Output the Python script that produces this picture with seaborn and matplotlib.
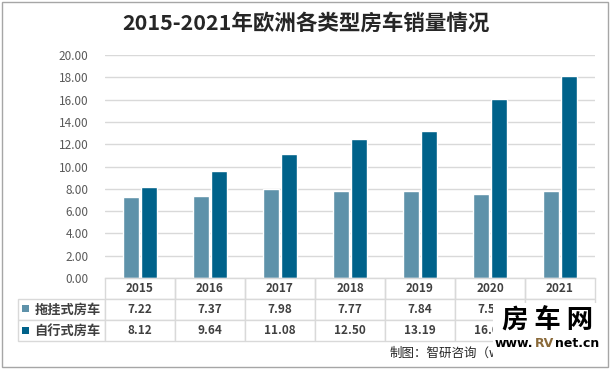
import pandas as pd
import matplotlib
matplotlib.use("Agg")
import matplotlib.pyplot as plt
from matplotlib.patches import Rectangle
import seaborn as sns

# ==============================
# Data
# ==============================
years = ["2015", "2016", "2017", "2018", "2019", "2020", "2021"]
series_names = ["拖挂式房车", "自行式房车"]
trailer = [7.22, 7.37, 7.98, 7.77, 7.84, 7.53, 7.80]
motorhome = [8.12, 9.64, 11.08, 12.50, 13.19, 16.03, 18.12]
colors = ["#5E92AA", "#00628A"]
yticks = [0, 2, 4, 6, 8, 10, 12, 14, 16, 18, 20]

df = pd.DataFrame({
    "year": years * 2,
    "type": [series_names[0]] * len(years) + [series_names[1]] * len(years),
    "value": trailer + motorhome,
})

# ==============================
# Style
# ==============================
sns.set_theme(style="white")
plt.rcParams["font.family"] = ["Noto Sans CJK SC", "DejaVu Sans"]

W, H = 611, 369
fig = plt.figure(figsize=(W / 100, H / 100), dpi=100)

# axes in pixel layout
left, right, top, bottom = 105, 595, 55, 278
ax = fig.add_axes([left / W, 1 - bottom / H, (right - left) / W, (bottom - top) / H])

sns.barplot(
    data=df, x="year", y="value", hue="type",
    palette=colors, width=0.53, gap=0.136,
    legend=False, ax=ax, saturation=1
)

ax.set_xlim(-0.5, len(years) - 0.5)
ax.set_ylim(0, 20)
ax.set_yticks(yticks)
ax.set_yticklabels([f"{v:.2f}" for v in yticks], color="#595959", fontsize=8.5)
ax.tick_params(axis="y", length=0, pad=12)
ax.set_xticks([])
ax.set_xlabel("")
ax.set_ylabel("")
ax.yaxis.grid(True, color="#D9D9D9", linewidth=1)
ax.set_axisbelow(True)
for s in ["top", "right", "left"]:
    ax.spines[s].set_visible(False)
ax.spines["bottom"].set_color("#D9D9D9")
ax.spines["bottom"].set_linewidth(1)

# ==============================
# Data table
# ==============================
tab_left, tab_bottom = 18, 341
tw = right - tab_left
th = tab_bottom - bottom
ax_w = right - left
ax_h = bottom - top
cell_text = [
    [series_names[0]] + [f"{v:.2f}" for v in trailer],
    [series_names[1]] + [f"{v:.2f}" for v in motorhome],
]
col_w = [(left - tab_left) / tw] + [(ax_w / len(years)) / tw] * len(years)
table = ax.table(
    cellText=cell_text,
    colLabels=[""] + years,
    colWidths=col_w,
    cellLoc="center",
    bbox=[(tab_left - left) / ax_w, -th / ax_h, tw / ax_w, th / ax_h],
)
table.auto_set_font_size(False)
for (r, c), cell in table.get_celld().items():
    cell.set_edgecolor("#D9D9D9")
    cell.set_linewidth(1)
    cell.get_text().set_color("#404040")
    cell.get_text().set_fontweight("bold")
    cell.get_text().set_fontsize(8.5)
    if r == 0:
        cell.visible_edges = "" if c == 0 else "BLR"
    if c == 0 and r > 0:
        cell.get_text().set_fontsize(9.5)
        cell.get_text().set_ha("left")
        cell.PAD = 0.19
        cell._loc = "left"

# legend keys in the table
for i, col in enumerate(colors):
    yc = bottom + 20 + 21.5 * i + 10.5
    fig.add_artist(Rectangle((22 / W, 1 - (yc + 3.5) / H), 7 / W, 7 / H,
                             transform=fig.transFigure, color=col, lw=0))

# ==============================
# Title, source, watermark
# ==============================
fig.text(0.5, 1 - 23 / H, "2015-2021年欧洲各类型房车销量情况",
         ha="center", va="center", fontsize=15.5, fontweight="bold", color="#262626")

fig.text(390 / W, 1 - 353 / H, "制图：智研咨询（www.chyxx.com）",
         ha="left", va="center", fontsize=9, color="#262626")

fig.add_artist(Rectangle((493 / W, 1 - 360 / H), 114 / W, 57 / H,
                         transform=fig.transFigure, color="white", lw=0, zorder=5))
fig.text(548 / W, 1 - 321 / H, "房 车 网", ha="center", va="center",
         fontsize=19, fontweight="heavy", color="black", zorder=6)

# www.RVnet.cn with coloured "RV"
renderer = fig.canvas.get_renderer()
x = 495
for part, col in [("www.", "black"), ("RV", "#8A6A3A"), ("net.cn", "black")]:
    t = fig.text(x / W, 1 - 347 / H, part, ha="left", va="baseline",
                 fontsize=9, fontweight="bold", color=col, zorder=6,
                 family="DejaVu Sans")
    x = t.get_window_extent(renderer).x1 + 1

# outer frame
fig.add_artist(Rectangle((2 / W, 2 / H), 606 / W, 365 / H,
                         transform=fig.transFigure, fill=False,
                         edgecolor="#A6A6A6", lw=1))

fig.savefig("out.png", dpi=100)
plt.close()
